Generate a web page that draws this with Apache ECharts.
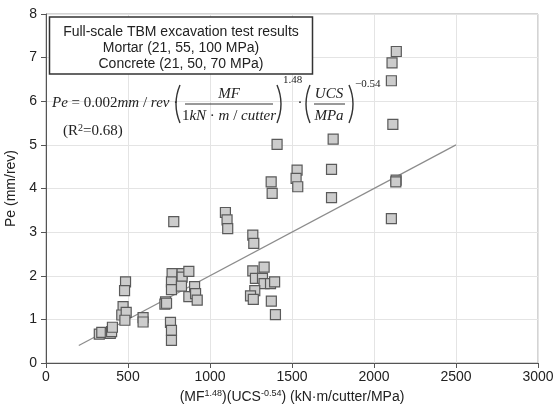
<!DOCTYPE html>
<html><head><meta charset="utf-8">
<script src="https://cdn.jsdelivr.net/npm/echarts@6/dist/echarts.min.js"></script>
<style>html,body{margin:0;padding:0;background:#fff}#c{width:555px;height:417px}</style>
</head><body><div id="c"></div>
<script>
// Data
var xValues = [325,340,392,400,405,485,479,470,462,489,481,592,592,729,725,735,759,765,765,769,765,765,830,830,871,826,871,906,912,922,779,1094,1104,1108,1261,1267,1330,1261,1277,1320,1330,1369,1394,1273,1247,1264,1374,1399,1409,1373,1379,1531,1525,1535,1751,1741,1741,2136,2110,2106,2115,2135,2133,2106];
var yValues = [0.66,0.70,0.68,0.72,0.82,1.86,1.66,1.29,1.10,1.16,0.98,1.04,0.94,1.40,1.35,1.37,0.93,0.75,0.52,2.05,1.86,1.68,2.05,1.97,2.10,1.76,1.52,1.75,1.59,1.44,3.24,3.45,3.28,3.08,2.93,2.74,2.20,2.11,1.94,1.94,1.82,1.82,1.86,1.66,1.54,1.46,1.42,1.11,5.01,4.15,3.89,4.42,4.23,4.04,5.13,4.44,3.79,7.14,6.88,6.47,5.47,4.19,4.15,3.31];
var trendX = [200, 2500];
var trendY = [0.4, 5.0];
var xTicks = [0,500,1000,1500,2000,2500,3000];
var yTicks = [0,1,2,3,4,5,6,7,8];
var boxLines = ['Full-scale TBM excavation test results','Mortar (21, 55, 100 MPa)','Concrete (21, 50, 70 MPa)'];

var pts = xValues.map(function(x,i){return [x,yValues[i]];});
var trend = trendX.map(function(x,i){return [x,trendY[i]];});

var chart = echarts.init(document.getElementById('c'), null, {renderer:'canvas'});
var sans = '"Liberation Sans", Arial, sans-serif';
var serif = '"Liberation Serif", "Times New Roman", serif';
var eqFont = '15px ' + serif;
var eqIt = 'italic 15px ' + serif;
function paren(x, dir){
  return {type:'bezierCurve', shape:{x1:x,y1:85,x2:x,y2:123,cpx1:x-8*dir,cpy1:104}, style:{stroke:'#333',lineWidth:1.4,fill:null}, z:10};
}
var option = {
  animation:false,
  grid:{left:46,right:17,top:14,bottom:54,show:true,borderColor:'#a8a8a8',borderWidth:1,outerBoundsMode:'none',containLabel:false},
  xAxis:{type:'value',min:xTicks[0],max:xTicks[xTicks.length-1],interval:500,
    axisLine:{show:true,onZero:false,lineStyle:{color:'#555',width:1}},
    axisTick:{show:true,length:5,lineStyle:{color:'#555'}},
    axisLabel:{color:'#222',fontSize:14,fontFamily:sans,margin:7,formatter:function(v){return String(v);}},
    splitLine:{show:true,lineStyle:{color:'#e4e4e4',width:1}},
    name:'(MF{s|1.48})(UCS{s|-0.54}) (kN·m/cutter/MPa)',nameLocation:'middle',nameGap:22,
    nameTextStyle:{color:'#222',fontSize:14,fontFamily:sans,lineHeight:16,
      rich:{s:{fontSize:9,fontFamily:sans,color:'#222',verticalAlign:'top',lineHeight:9}}}
  },
  yAxis:{type:'value',min:yTicks[0],max:yTicks[yTicks.length-1],interval:1,
    axisLine:{show:true,onZero:false,lineStyle:{color:'#555',width:1}},
    axisTick:{show:true,length:5,lineStyle:{color:'#555'}},
    axisLabel:{color:'#222',fontSize:14,fontFamily:sans,margin:9},
    splitLine:{show:true,lineStyle:{color:'#e4e4e4',width:1}},
    name:'Pe (mm/rev)',nameLocation:'middle',nameGap:27,
    nameTextStyle:{color:'#222',fontSize:14,fontFamily:sans}
  },
  series:[
    {type:'line',data:trend,symbol:'none',lineStyle:{color:'#8c8c8c',width:1.2},z:2},
    {type:'scatter',data:pts,symbol:'rect',symbolSize:10,
      itemStyle:{color:'#cccccc',borderColor:'#5a5a5a',borderWidth:1.2,opacity:1},z:3}
  ],
  graphic:[
    {type:'rect',shape:{x:49.5,y:17,width:263,height:57},style:{fill:'#fff',stroke:'#333',lineWidth:1.5},z:5},
    {type:'text',x:181,y:32,style:{text:boxLines[0],font:'14px '+sans,fill:'#222',align:'center',verticalAlign:'middle'},z:6},
    {type:'text',x:181,y:48,style:{text:boxLines[1],font:'14px '+sans,fill:'#222',align:'center',verticalAlign:'middle'},z:6},
    {type:'text',x:181,y:64,style:{text:boxLines[2],font:'14px '+sans,fill:'#222',align:'center',verticalAlign:'middle'},z:6},
    {type:'text',x:52,y:103,style:{text:'{i|Pe} = 0.002{i|mm} / {i|rev} ·',font:eqFont,fill:'#222',align:'left',verticalAlign:'middle',
      rich:{i:{font:eqIt,fill:'#222'}}},z:10},
    paren(180,1),
    {type:'text',x:229,y:94,style:{text:'MF',font:eqIt,fill:'#222',align:'center',verticalAlign:'middle'},z:10},
    {type:'line',shape:{x1:185,y1:104,x2:273,y2:104},style:{stroke:'#333',lineWidth:1},z:10},
    {type:'text',x:229,y:116,style:{text:'1{i|kN} · {i|m} / {i|cutter}',font:eqFont,fill:'#222',align:'center',verticalAlign:'middle',
      rich:{i:{font:eqIt,fill:'#222'}}},z:10},
    paren(277,-1),
    {type:'text',x:283,y:80,style:{text:'1.48',font:'11px '+serif,fill:'#222',align:'left',verticalAlign:'middle'},z:10},
    {type:'text',x:300,y:103,style:{text:'·',font:eqFont,fill:'#222',align:'center',verticalAlign:'middle'},z:10},
    paren(310,1),
    {type:'text',x:329,y:94,style:{text:'UCS',font:eqIt,fill:'#222',align:'center',verticalAlign:'middle'},z:10},
    {type:'line',shape:{x1:314,y1:104,x2:345,y2:104},style:{stroke:'#333',lineWidth:1},z:10},
    {type:'text',x:329,y:116,style:{text:'MPa',font:eqIt,fill:'#222',align:'center',verticalAlign:'middle'},z:10},
    paren(349,-1),
    {type:'text',x:355,y:84,style:{text:'\u22120.54',font:'11px '+serif,fill:'#222',align:'left',verticalAlign:'middle'},z:10},
    {type:'text',x:63,y:131,style:{text:'(R{s|2}=0.68)',font:'15px '+serif,fill:'#222',align:'left',verticalAlign:'middle',
      rich:{s:{font:'10px '+serif,fill:'#222',verticalAlign:'top',lineHeight:10}}},z:10}
  ]
};
chart.setOption(option);
</script></body></html>
